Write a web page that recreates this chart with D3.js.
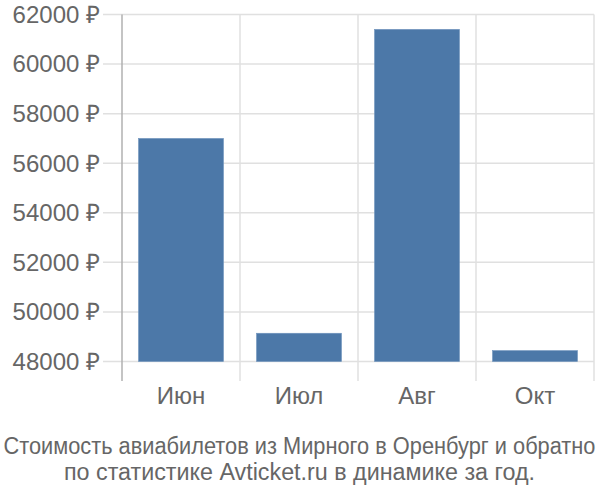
<!DOCTYPE html>
<html>
<head>
<meta charset="utf-8">
<script src="https://cdn.jsdelivr.net/npm/d3@7"></script>
<style>
  body { margin: 0; background: #fff; }
  text { font-family: "Liberation Sans", Arial, sans-serif; }
</style>
</head>
<body>
<div id="chart"></div>
<script>
// months and ticket prices (rubles)
var months = ["Июн", "Июл", "Авг", "Окт"];
var prices = [57000, 49140, 61400, 48440];
var yTicks = [48000, 50000, 52000, 54000, 56000, 58000, 60000, 62000];
var titleLines = [
  "Стоимость авиабилетов из Мирного в Оренбург и обратно",
  "по статистике Avticket.ru в динамике за год."
];

var width = 600, height = 500;
var plotLeft = 122, plotRight = 594, plotTop = 14.5, plotBottom = 361.5;

var svg = d3.select("#chart")
  .append("svg")
  .attr("width", width)
  .attr("height", height);

var x = d3.scaleBand()
  .domain(months)
  .range([plotLeft, plotRight])
  .paddingInner(0.28)
  .paddingOuter(0.14);

var y = d3.scaleLinear()
  .domain([48000, 62000])
  .range([plotBottom, plotTop]);

// horizontal grid, sticks out to the left like ticks
svg.append("g")
  .selectAll("line")
  .data(yTicks)
  .join("line")
  .attr("x1", 103)
  .attr("x2", plotRight)
  .attr("y1", d => y(d))
  .attr("y2", d => y(d))
  .attr("stroke", "#e0e0e0")
  .attr("stroke-width", 1.5);

// vertical grid between bands
var step = x.step();
var vlines = d3.range(months.length + 1).map(i => plotLeft + i * step);
svg.append("g")
  .selectAll("line")
  .data(vlines)
  .join("line")
  .attr("x1", d => d)
  .attr("x2", d => d)
  .attr("y1", plotTop)
  .attr("y2", 381)
  .attr("stroke", (d, i) => i == 0 ? "#b0b0b0" : "#e0e0e0")
  .attr("stroke-width", 1.5);

svg.append("g")
  .selectAll("rect")
  .data(prices)
  .join("rect")
  .attr("x", (d, i) => x(months[i]))
  .attr("width", x.bandwidth())
  .attr("y", d => y(d))
  .attr("height", d => plotBottom - y(d))
  .attr("fill", "#4c78a8")
  .attr("stroke", "#6f93bd")
  .attr("stroke-width", 0.6);

// y labels
svg.append("g")
  .selectAll("text")
  .data(yTicks)
  .join("text")
  .attr("x", 100)
  .attr("y", d => y(d))
  .attr("dy", "0.35em")
  .attr("text-anchor", "end")
  .attr("fill", "#666")
  .style("font-size", "24px")
  .text(d => d + " ₽");

// x labels
svg.append("g")
  .selectAll("text")
  .data(months)
  .join("text")
  .attr("x", d => x(d) + x.bandwidth() / 2)
  .attr("y", 396)
  .attr("dy", "0.35em")
  .attr("text-anchor", "middle")
  .attr("fill", "#666")
  .style("font-size", "24px")
  .text(d => d);

// title, first line squeezed to fit the width
svg.append("g")
  .selectAll("text")
  .data(titleLines)
  .join("text")
  .attr("x", 299.5)
  .attr("y", (d, i) => 446 + i * 26)
  .attr("dy", "0.35em")
  .attr("text-anchor", "middle")
  .attr("fill", "#666")
  .style("font-size", "23.3px")
  .each(function(d, i) {
    if (i == 0) {
      d3.select(this).attr("textLength", 592).attr("lengthAdjust", "spacingAndGlyphs");
    }
  })
  .text(d => d);
</script>
</body>
</html>
